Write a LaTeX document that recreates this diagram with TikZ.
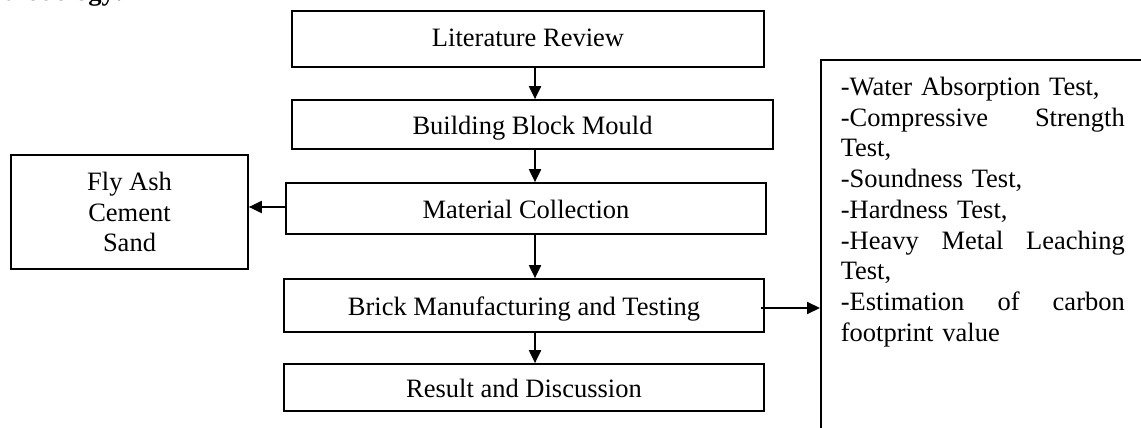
\documentclass[tikz,border=0pt]{standalone}
\usepackage{fontspec}
\setmainfont{Liberation Serif}
\usetikzlibrary{arrows.meta}
\newcommand{\justline}[1]{\leavevmode\hbox to 284pt{#1}}
\begin{document}
\begin{tikzpicture}[x=1pt,y=-1pt,
  every node/.style={font=\fontsize{26.5pt}{30.75pt}\selectfont},
  box/.style={draw, line width=1.7pt, inner sep=0pt, text height=21pt, text depth=2pt},
  plainbox/.style={draw, line width=1.7pt, inner sep=0pt},
  arr/.style={line width=2pt, -{Triangle[length=13pt,width=12pt]}}]
\useasboundingbox[fill=white] (0,0) rectangle (1141,428);
% heading fragment (cut off at the top)
\node[anchor=base east, inner sep=0pt, font=\fontsize{26.5pt}{30.75pt}\selectfont\bfseries] (head) at (124,1) {Methodology:};
% main column
\node[box, text height=19pt, text depth=4pt, minimum width=472pt, minimum height=56pt] (lit) at (528,39) {Literature Review};
\node[box, minimum width=481pt, minimum height=49pt] (bbm) at (532.5,124.5) {Building Block Mould};
\node[box, minimum width=480pt, minimum height=51pt] (mc) at (526,208.5) {Material Collection};
\node[box, minimum width=480pt, minimum height=53pt] (bmt) at (524,305.5) {Brick Manufacturing and Testing};
\node[box, minimum width=480pt, minimum height=47pt] (rd) at (524,387.5) {Result and Discussion};
% materials
\node[plainbox, align=center, minimum width=237pt, minimum height=114pt] (fly) at (129.5,212) {Fly Ash\\Cement\\Sand};
% tests box (runs off the right and bottom edges)
\node[plainbox, line width=2pt, anchor=north west, minimum width=400pt, minimum height=420pt] (big) at (820,59) {};
\node[anchor=north west, inner sep=0pt, text width=284pt, align=left] (tests) at (840.6,76.9) {%
-Water Absorption Test,\\
\justline{-Compressive\hfill Strength}\\
Test,\\
-Soundness Test,\\
-Hardness Test,\\
\justline{-Heavy\hfill Metal\hfill Leaching}\\
Test,\\
\justline{-Estimation\hfill of\hfill carbon}\\
footprint value};
% connectors
\coordinate (ax) at (535,0);
\draw[arr] (lit.south -| ax) -- (bbm.north -| ax);
\draw[arr] (bbm.south -| ax) -- (mc.north -| ax);
\draw[arr] (mc.south -| ax) -- (bmt.north -| ax);
\draw[arr] (bmt.south -| ax) -- (rd.north -| ax);
\coordinate (ms) at ([yshift=1.5pt]mc.west);
\draw[arr] (ms) -- (ms -| fly.east);
\coordinate (bs) at ([xshift=-4pt,yshift=-2.5pt]bmt.east);
\draw[arr] (bs) -- (bs -| big.west);
\end{tikzpicture}
\end{document}
